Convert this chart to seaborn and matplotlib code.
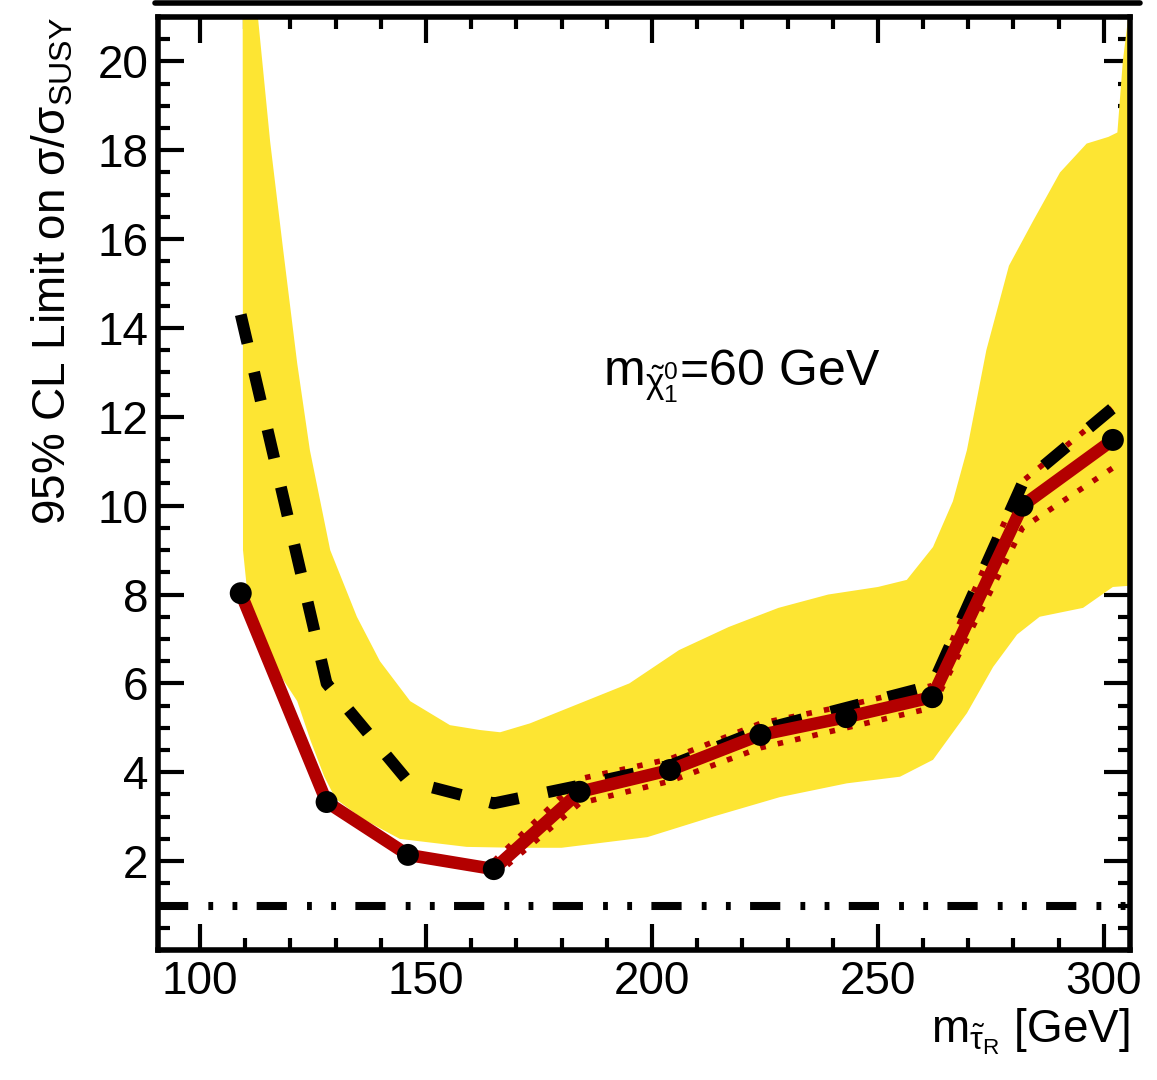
import numpy as np
import matplotlib
matplotlib.use("Agg")
import matplotlib.pyplot as plt
from matplotlib.ticker import MultipleLocator
from matplotlib.lines import Line2D
import seaborn as sns

# stau mass points and limits
mass = [109, 128, 146, 165, 184, 204, 224, 243, 262, 282, 302]
observed = [8.03, 3.33, 2.14, 1.82, 3.56, 4.05, 4.84, 5.24, 5.69, 10.0, 11.48]
expected = [14.3, 6.0, 3.8, 3.3, 3.7, 4.15, 4.95, 5.45, 5.95, 10.5, 12.2]

# observed +-1 sigma (theory) dotted lines, from 165 GeV on
theory_mass = [165, 184, 204, 224, 243, 262, 282, 302]
theory_up = [2.0, 3.85, 4.3, 5.1, 5.5, 5.95, 10.55, 12.2]
theory_down = [1.65, 3.3, 3.8, 4.55, 5.0, 5.45, 9.5, 10.85]

# expected +-1 sigma band edges
band_hi_x = [109.4, 112.8, 115.5, 118.4, 121.5, 124.3, 128.8, 134.7, 139.8, 146.5, 155.3,
             162, 166.4, 173, 184, 195, 206, 217, 228, 239, 250, 256.4, 262.2, 266.6,
             269.7, 271.9, 274, 279, 284.3, 290.3, 296.2, 301, 303, 304.2, 306]
band_hi = [27, 21, 18.2, 15.75, 13.2, 11.25, 9.0, 7.5, 6.5, 5.6, 5.06,
           4.95, 4.9, 5.1, 5.55, 6.0, 6.75, 7.27, 7.7, 8.0, 8.17, 8.33, 9.07, 10.1,
           11.25, 12.4, 13.5, 15.4, 16.4, 17.5, 18.15, 18.3, 18.4, 20.0, 21.5]
band_lo_x = [109.4, 109.5, 110.6, 117, 121.5, 124.5, 127.5, 130, 136, 144.2, 159, 170,
             180, 199, 213.5, 228.3, 243.1, 254.9, 262.2, 269.7, 275.5, 280.8,
             285.8, 295.4, 302, 306]
band_lo = [27, 9.0, 7.9, 6.3, 5.6, 4.7, 3.9, 3.4, 2.95, 2.5, 2.32, 2.3,
           2.3, 2.54, 3.0, 3.44, 3.75, 3.9, 4.28, 5.33, 6.37, 7.1,
           7.5, 7.7, 8.17, 8.2]

xticks = [100, 150, 200, 250, 300]
yticks = [2, 4, 6, 8, 10, 12, 14, 16, 18, 20]

sns.set_theme(style="ticks")
plt.rcParams["font.family"] = ["Liberation Sans", "DejaVu Sans"]
plt.rcParams["mathtext.fontset"] = "custom"
plt.rcParams["mathtext.rm"] = "Liberation Sans"
plt.rcParams["mathtext.it"] = "Liberation Sans:italic"
plt.rcParams["mathtext.bf"] = "Liberation Sans:bold"
plt.rcParams["text.color"] = "black"
plt.rcParams["axes.labelcolor"] = "black"

yellow = "#fde533"
darkred = "#b30000"

fig = plt.figure(figsize=(11.57, 10.8), dpi=100)
ax = fig.add_axes([0.1366, 0.1204, 0.8401, 0.8639])

# yellow band
poly_x = list(band_hi_x) + list(band_lo_x[::-1])
poly_y = list(band_hi) + list(band_lo[::-1])
ax.fill(poly_x, poly_y, color=yellow, lw=0, zorder=1)

# theory dotted lines
sns.lineplot(x=theory_mass, y=theory_up, ax=ax, color=darkred, lw=4,
             linestyle=(0, (1.0, 2.2)), zorder=2)
sns.lineplot(x=theory_mass, y=theory_down, ax=ax, color=darkred, lw=4,
             linestyle=(0, (1.0, 2.2)), zorder=2)

# expected
sns.lineplot(x=mass, y=expected, ax=ax, color="black", lw=8.5,
             linestyle=(0, (2.5, 2.5)), zorder=3)

# observed
sns.lineplot(x=mass, y=observed, ax=ax, color=darkred, lw=9, zorder=4)
sns.scatterplot(x=mass, y=observed, ax=ax, color="black", s=250,
                edgecolor="none", zorder=5)

# sigma/sigma_SUSY = 1
ax.axhline(1, color="black", lw=5.8,
           linestyle=(0, (3.75, 2.5, 0.6, 2.4, 0.6, 2.4)), zorder=3)

ax.set_xlim(90.7, 305.8)
ax.set_ylim(0, 21)
ax.set_xticks(xticks)
ax.set_yticks(yticks)
ax.xaxis.set_minor_locator(MultipleLocator(10))
ax.yaxis.set_minor_locator(MultipleLocator(0.5))
ax.tick_params(which="both", direction="in", top=True, right=True,
               width=3, colors="black", labelsize=33, pad=7)
ax.tick_params(which="major", length=19)
ax.tick_params(which="minor", length=8.5)
for s in ax.spines.values():
    s.set_linewidth(4)
    s.set_color("black")
ax.grid(False)

ax.set_ylabel(r"95% CL Limit on $\mathregular{\sigma/\sigma_{SUSY}}$",
              fontsize=33, loc="top", labelpad=16)
ax.set_xlabel(r"m$\mathregular{_{\tilde{\tau}_R}}$ [GeV]",
              fontsize=33, loc="right", labelpad=2)

ax.text(189.2, 12.7, r"m$\mathregular{_{\tilde{\chi}^0_1}}$=60 GeV",
        fontsize=36, ha="left", va="baseline", zorder=6)

# thick frame line at the very top of the canvas
fig.add_artist(Line2D([155 / 1157, 1140 / 1157], [1 - 3 / 1080, 1 - 3 / 1080],
                      color="black", lw=4))

fig.savefig("out.png", dpi=100)
